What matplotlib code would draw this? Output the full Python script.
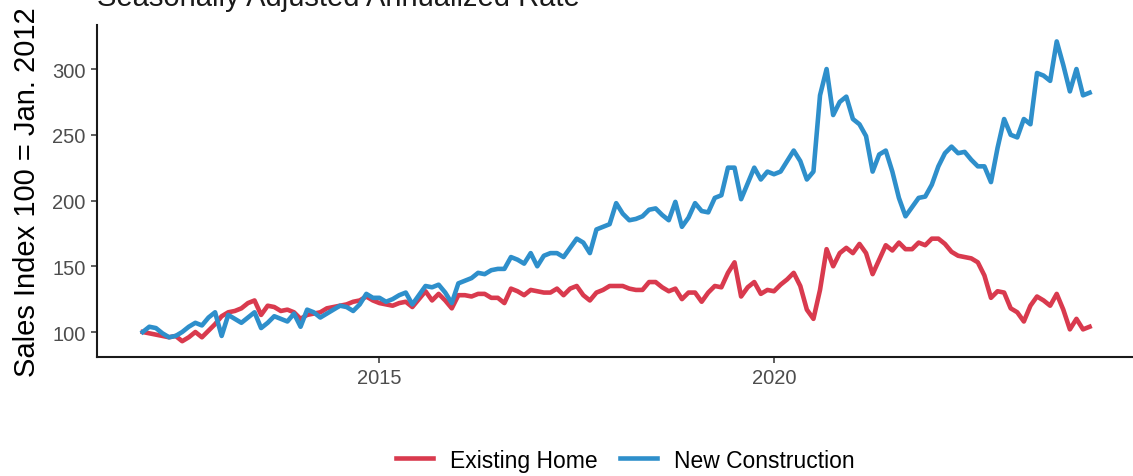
import numpy as np
import matplotlib
matplotlib.use('Agg')
import matplotlib.pyplot as plt

# Monthly index, Jan 2012 = 100 (Jan 2012 .. Jan 2024)
existing_home = [
    100, 99, 98, 97, 96, 97, 93, 96, 100, 96, 101, 106,
    112, 115, 116, 118, 122, 124, 113, 120, 119, 116, 117, 115,
    110, 113, 114, 115, 118, 119, 120, 121, 123, 124, 127, 124,
    122, 121, 120, 122, 123, 119, 125, 131, 124, 129, 124, 118,
    128, 128, 127, 129, 129, 126, 126, 122, 133, 131, 128, 132,
    131, 130, 130, 133, 128, 133, 135, 128, 124, 130, 132, 135,
    135, 135, 133, 132, 132, 138, 138, 134, 131, 133, 125, 130,
    130, 123, 130, 135, 134, 145, 153, 127, 134, 138, 129, 132,
    131, 136, 140, 145, 135, 117, 110, 132, 163, 150, 160, 164,
    160, 167, 160, 144, 155, 166, 162, 168, 163, 163, 168, 166,
    171, 171, 167, 161, 158, 157, 156, 153, 143, 126, 131, 130,
    118, 115, 108, 120, 127, 124, 120, 129, 117, 102, 110, 102, 104,
]
new_construction = [
    100, 104, 103, 99, 96, 97, 100, 104, 107, 105, 111, 115,
    97, 113, 110, 107, 111, 115, 103, 107, 112, 110, 108, 114,
    104, 117, 115, 111, 114, 117, 120, 119, 116, 121, 129, 126,
    126, 123, 125, 128, 130, 121, 128, 135, 134, 136, 130, 122,
    137, 139, 141, 145, 144, 147, 148, 148, 157, 155, 152, 160,
    150, 158, 160, 160, 157, 164, 171, 168, 160, 178, 180, 182,
    198, 190, 185, 186, 188, 193, 194, 189, 185, 199, 180, 187,
    198, 192, 191, 202, 204, 225, 225, 201, 213, 225, 216, 222,
    220, 222, 230, 238, 230, 216, 222, 280, 300, 265, 275, 279,
    262, 258, 249, 222, 235, 238, 222, 202, 188, 195, 202, 203,
    212, 226, 236, 241, 236, 237, 231, 226, 226, 214, 240, 262,
    250, 248, 262, 258, 297, 295, 291, 321, 303, 283, 300, 280, 282,
]
x_ticks = [2015, 2020]
y_ticks = [100, 150, 200, 250, 300]

dates = 2012 + np.arange(len(existing_home)) / 12

plt.rcParams['font.family'] = ['Liberation Sans', 'DejaVu Sans']

fig = plt.figure(figsize=(11.33, 4.77), dpi=100)
ax = fig.add_axes([0.0856, 0.2495, 0.9144, 0.696])

ax.plot(dates, existing_home, color='#d93a4e', lw=3.3, solid_joinstyle='round',
        label='Existing Home')
ax.plot(dates, new_construction, color='#2e8fcb', lw=3.3, solid_joinstyle='round',
        label='New Construction')

ax.set_xlim(2011.42, 2024.55)
ax.set_ylim(81, 333.5)
ax.set_xticks(x_ticks)
ax.set_yticks(y_ticks)
ax.tick_params(labelsize=14.5, labelcolor='#4d4d4d', color='#333333',
               length=4, width=1.1, pad=4)

for s in ['top', 'right']:
    ax.spines[s].set_visible(False)
for s in ['left', 'bottom']:
    ax.spines[s].set_linewidth(1.5)
    ax.spines[s].set_color('#1a1a1a')

ax.set_ylabel('Sales Index 100 = Jan. 2012', fontsize=21, labelpad=8)

# title is cut off at the top edge, as in the source image
fig.text(0.0856, 1 - 6 / 477, 'Seasonally Adjusted Annualized Rate',
         fontsize=21, va='baseline', ha='left', color='#1a1a1a')

ax.legend(loc='center', bbox_to_anchor=(0.552, 0.0335),
          bbox_transform=fig.transFigure, ncol=2, frameon=False,
          fontsize=16.5, handlelength=1.6, handletextpad=0.75,
          columnspacing=1.0)

plt.savefig('out.png', dpi=100)
